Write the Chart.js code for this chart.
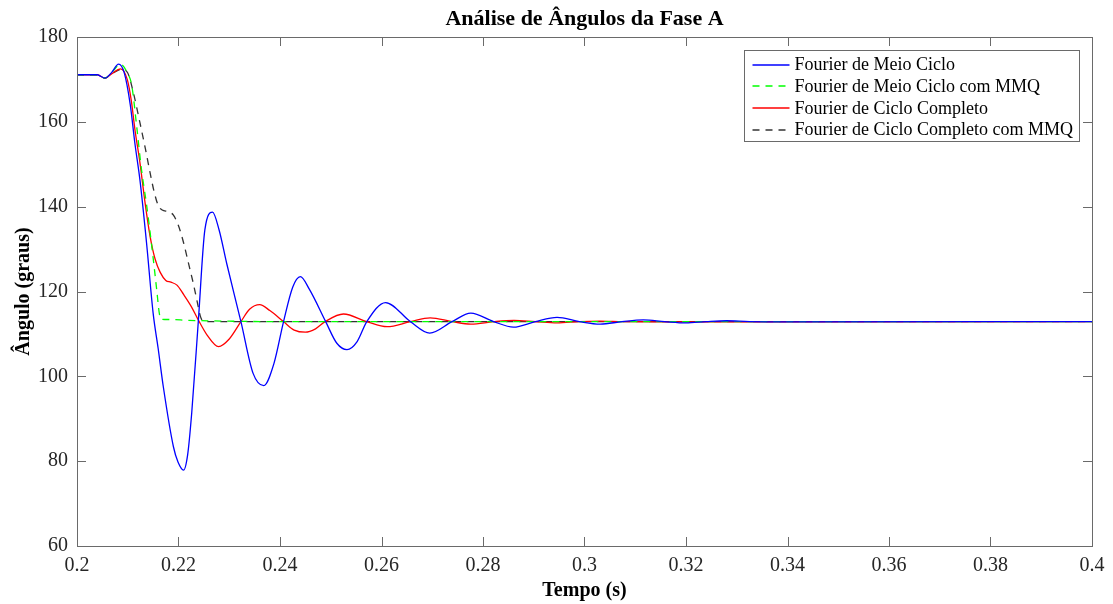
<!DOCTYPE html>
<html>
<head>
<meta charset="utf-8">
<script src="https://cdn.jsdelivr.net/npm/chart.js@4.4.1/dist/chart.umd.min.js"></script>
<style>
html,body{margin:0;padding:0;background:#fff;}
#wrap{width:1113px;height:604px;}
</style>
</head>
<body>
<div id="wrap"><canvas id="c" width="1113" height="604"></canvas></div>
<script>
// ---- data ----
const chartTitle = 'Análise de Ângulos da Fase A';
const xTitle = 'Tempo (s)';
const yTitle = 'Ângulo (graus)';
const seriesNames = [
  'Fourier de Meio Ciclo',
  'Fourier de Meio Ciclo com MMQ',
  'Fourier de Ciclo Completo',
  'Fourier de Ciclo Completo com MMQ'
];
const xRange = [0.2, 0.4];
const xStep = 0.02;
const yRange = [60, 180];
const yStep = 20;

// Fourier de Meio Ciclo
const blueT = [0.2000,0.2040,0.2055,0.2068,0.2082,0.2093,0.2105,0.2114,0.2124,0.2137,0.2150,0.2160,0.2170,0.2190,0.2199,0.2210,
  0.2218,0.2226,0.2239,0.2252,0.2267,0.2280,0.2295,0.2323,0.2347,0.2368,0.2388,0.2407,0.2425,0.2440,0.2458,0.2490,0.2512,0.2532,
  0.2552,0.2571,0.2608,0.2657,0.2695,0.2739,0.2776,0.2821,0.2860,0.2903,0.2946,0.2990,0.3031,0.3074,0.3116,0.3158,0.3200,0.3240,
  0.3280,0.3325,0.3400,0.4000];
const blueV = [171.1,171.1,170.3,171.6,173.6,171.6,164.0,155.0,146.3,131.5,114.9,106.5,97.6,83.4,79.8,77.9,
  81.5,91.3,112.9,134.6,138.7,134.5,126.6,112.9,100.7,97.8,103.0,112.9,121.0,123.5,120.5,112.9,107.8,106.3,
  108.2,112.9,117.4,112.9,110.2,112.9,114.9,112.9,111.6,112.9,113.9,112.9,112.3,112.9,113.3,112.9,112.6,112.9,
  113.1,112.9,112.85,112.9];

// Fourier de Meio Ciclo com MMQ
const greenT = [0.2000,0.2040,0.2055,0.2068,0.2086,0.2098,0.2108,0.2118,0.2127,0.2137,0.2147,0.2157,0.2162,0.2165,0.2180,0.2220,0.2300,0.2400,0.4000];
const greenV = [171.1,171.1,170.3,171.6,173.6,171.8,168.5,158.5,148.8,140.5,131.0,120.5,115.0,113.5,113.4,113.2,113.0,112.9,112.9];

// Fourier de Ciclo Completo
const redT = [0.2000,0.2040,0.2055,0.2068,0.2086,0.2099,0.2107,0.2114,0.2124,0.2134,0.2144,0.2154,0.2164,0.2175,0.2185,0.2197,
  0.2210,0.2225,0.2239,0.2256,0.2279,0.2300,0.2323,0.2340,0.2360,0.2380,0.2407,0.2428,0.2450,0.2470,0.2489,0.2525,0.2571,0.2611,
  0.2657,0.2696,0.2739,0.2776,0.2821,0.2861,0.2903,0.2946,0.2990,0.3031,0.3074,0.3150,0.4000];
const redV = [171.1,171.1,170.3,171.3,172.5,170.0,165.0,158.3,150.4,141.0,133.0,127.6,124.5,122.6,122.2,121.5,
  119.3,116.5,113.3,109.8,107.0,108.8,112.9,115.8,116.9,115.5,112.9,110.9,110.4,111.2,112.9,114.7,112.9,111.7,
  112.9,113.8,112.9,112.3,112.9,113.2,112.9,112.6,112.9,113.0,112.9,112.85,112.9];

// Fourier de Ciclo Completo com MMQ
const blackT = [0.2000,0.2040,0.2055,0.2068,0.2088,0.2100,0.2111,0.2124,0.2135,0.2144,0.2152,0.2160,0.2168,0.2180,0.2190,
  0.2200,0.2210,0.2220,0.2229,0.2237,0.2243,0.2248,0.2260,0.4000];
const blackV = [171.1,171.1,170.3,171.3,172.4,171.5,166.9,159.8,153.5,148.0,143.5,140.3,139.2,138.8,138.0,
  135.5,131.5,126.5,122.0,117.5,114.2,113.1,112.9,112.9];

// ---- chart ----
const FONT = '"Liberation Serif", "Times New Roman", serif';
Chart.defaults.font.family = FONT;
Chart.defaults.color = '#262626';

function toXY(ts, vs){ return ts.map((t,i)=>({x:t, y:vs[i]})); }

const styles = [
  {color:'#0000ff', dash:[]},
  {color:'#00ff00', dash:[7,6]},
  {color:'#ff0000', dash:[]},
  {color:'#333333', dash:[7,6]}
];
const seriesT = [blueT, greenT, redT, blackT];
const seriesV = [blueV, greenV, redV, blackV];

const datasets = seriesNames.map((name,i)=>({
  label: name,
  data: toXY(seriesT[i], seriesV[i]),
  borderColor: styles[i].color,
  borderDash: styles[i].dash,
  borderWidth: 1.3,
  pointRadius: 0,
  fill: false,
  cubicInterpolationMode: 'monotone'
}));

const frameColor = '#6a6a6a';
const tickLen = 9;

const framePlugin = {
  id: 'frame',
  afterDraw(chart){
    const ctx = chart.ctx;
    const ca = chart.chartArea;
    const xs = chart.scales.x, ys = chart.scales.y;
    ctx.save();
    // title centred over the axes
    ctx.fillStyle = '#000000';
    ctx.font = 'bold 22px ' + FONT;
    ctx.textAlign = 'center';
    ctx.textBaseline = 'middle';
    ctx.fillText(chartTitle, (ca.left + ca.right)/2, 19);

    ctx.strokeStyle = frameColor;
    ctx.lineWidth = 1;
    ctx.setLineDash([]);
    ctx.beginPath();
    xs.ticks.forEach(t=>{
      const px = Math.round(xs.getPixelForValue(t.value)) + 0.5;
      ctx.moveTo(px, ca.bottom); ctx.lineTo(px, ca.bottom - tickLen);
      ctx.moveTo(px, ca.top); ctx.lineTo(px, ca.top + tickLen);
    });
    ys.ticks.forEach(t=>{
      const py = Math.round(ys.getPixelForValue(t.value)) + 0.5;
      ctx.moveTo(ca.left, py); ctx.lineTo(ca.left + tickLen, py);
      ctx.moveTo(ca.right, py); ctx.lineTo(ca.right - tickLen, py);
    });
    ctx.stroke();
    ctx.strokeRect(Math.round(ca.left)+0.5, Math.round(ca.top)+0.5, Math.round(ca.right-ca.left), Math.round(ca.bottom-ca.top));

    // legend box
    ctx.font = '18px ' + FONT;
    const labels = chart.data.datasets.map(d=>d.label);
    const maxW = Math.max(...labels.map(l=>ctx.measureText(l).width));
    const rowH = 21.7;
    const boxW = Math.round(50 + maxW + 7);
    const boxH = Math.round(14 + rowH*3 + 12);
    const bx = Math.round(ca.right - 13 - boxW) + 0.5;
    const by = Math.round(ca.top + 13) + 0.5;
    ctx.fillStyle = '#ffffff';
    ctx.fillRect(bx, by, boxW, boxH);
    ctx.strokeStyle = frameColor;
    ctx.strokeRect(bx, by, boxW, boxH);
    chart.data.datasets.forEach((d,i)=>{
      const y = by + 14 + i*rowH;
      ctx.save();
      ctx.strokeStyle = d.borderColor;
      ctx.lineWidth = 1.3;
      ctx.setLineDash(d.borderDash || []);
      ctx.beginPath();
      ctx.moveTo(bx + 8, Math.round(y));
      ctx.lineTo(bx + 45, Math.round(y));
      ctx.stroke();
      ctx.restore();
      ctx.fillStyle = '#000000';
      ctx.textAlign = 'left';
      ctx.textBaseline = 'middle';
      ctx.fillText(d.label, bx + 50, y + 1);
    });
    ctx.restore();
  }
};

new Chart(document.getElementById('c').getContext('2d'), {
  type: 'line',
  data: {datasets},
  options: {
    responsive: false,
    animation: false,
    devicePixelRatio: 1,
    layout: {padding: {left: 0, right: 21, top: 37, bottom: 0}},
    plugins: {
      legend: {display: false},
      tooltip: {enabled: false},
      title: {display: false}
    },
    scales: {
      x: {
        type: 'linear',
        min: xRange[0], max: xRange[1],
        afterFit(s){ s.height = 58; },
        grid: {display: true, drawOnChartArea: false, drawTicks: false},
        border: {display: false},
        ticks: {
          stepSize: xStep, padding: 8, maxRotation: 0, autoSkip: false,
          font: {family: FONT, size: 20}, color: '#262626',
          callback: v => String(+(+v).toFixed(2))
        },
        title: {display: true, text: xTitle, color: '#000000',
          font: {family: FONT, size: 20, weight: 'bold'}, padding: {top: 0, bottom: 1}}
      },
      y: {
        type: 'linear',
        min: yRange[0], max: yRange[1],
        afterFit(s){ s.width = 77; },
        grid: {display: true, drawOnChartArea: false, drawTicks: false},
        border: {display: false},
        ticks: {stepSize: yStep, padding: 9, font: {family: FONT, size: 20}, color: '#262626'},
        title: {display: true, text: yTitle, color: '#000000',
          font: {family: FONT, size: 20, weight: 'bold'}, padding: {top: 12, bottom: 0}}
      }
    }
  },
  plugins: [framePlugin]
});
</script>
</body>
</html>
